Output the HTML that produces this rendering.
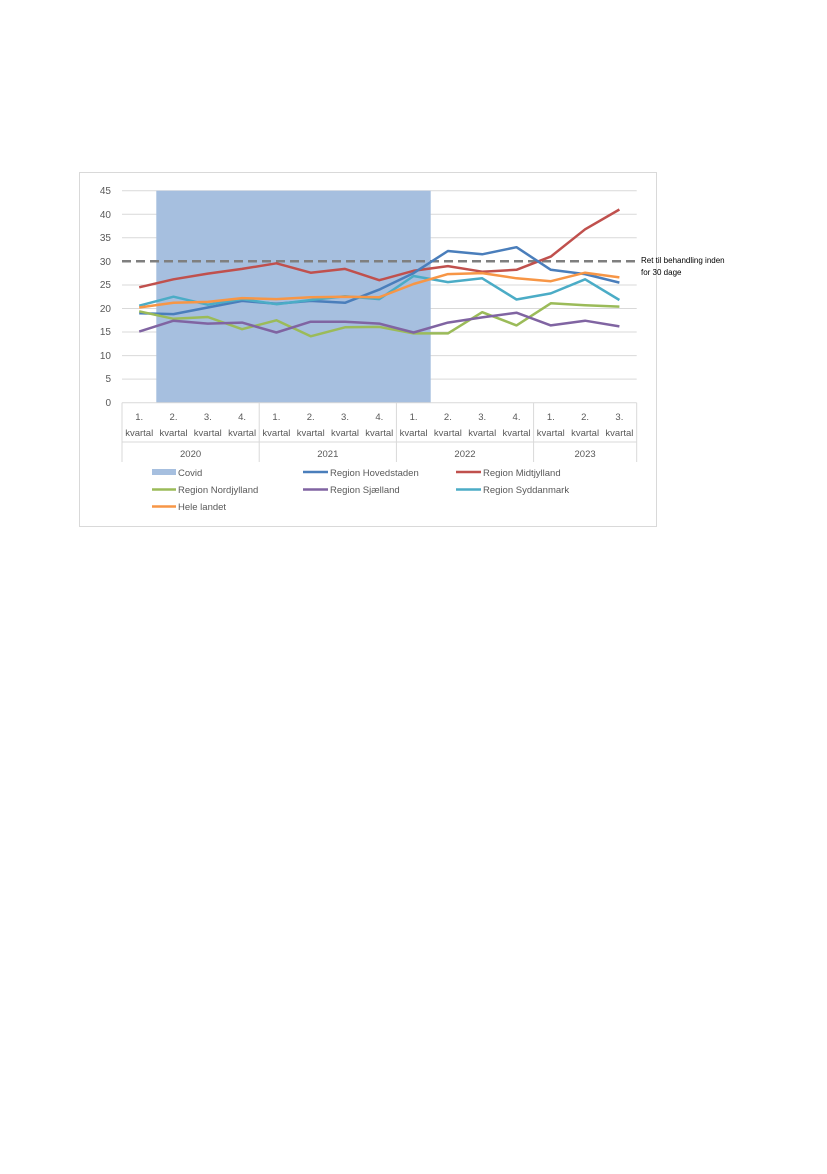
<!DOCTYPE html>
<html><head><meta charset="utf-8"><style>
body{margin:0;background:#fff;}
svg text{font-family:"Liberation Sans",sans-serif;}
</style></head><body>
<svg width="827" height="1169" xmlns="http://www.w3.org/2000/svg">
<rect x="79.5" y="172.5" width="577" height="354" fill="#fff" stroke="#d9d9d9"/>
<g id="grid" stroke="#d9d9d9" stroke-width="1">
</g>
<script>
</script>
<g fill="#595959" font-size="10" text-anchor="end">
<text x="111" y="194">45</text><text x="111" y="218">40</text><text x="111" y="241">35</text><text x="111" y="265">30</text><text x="111" y="288">25</text><text x="111" y="312">20</text><text x="111" y="335">15</text><text x="111" y="359">10</text><text x="111" y="382">5</text><text x="111" y="406">0</text>
</g>
<g stroke="#d9d9d9">
<line x1="122" y1="190.7" x2="636.7" y2="190.7"/><line x1="122" y1="214.3" x2="636.7" y2="214.3"/><line x1="122" y1="237.8" x2="636.7" y2="237.8"/><line x1="122" y1="285" x2="636.7" y2="285"/><line x1="122" y1="308.5" x2="636.7" y2="308.5"/><line x1="122" y1="332" x2="636.7" y2="332"/><line x1="122" y1="355.6" x2="636.7" y2="355.6"/><line x1="122" y1="379.1" x2="636.7" y2="379.1"/>
</g>
<rect x="156.3" y="190.7" width="274.4" height="212" fill="#a6bfdf"/>
<g stroke="#d9d9d9">
<line x1="122" y1="402.7" x2="636.7" y2="402.7"/>
<line x1="122" y1="402.7" x2="122" y2="462"/><line x1="259.2" y1="402.7" x2="259.2" y2="462"/><line x1="396.4" y1="402.7" x2="396.4" y2="462"/><line x1="533.6" y1="402.7" x2="533.6" y2="462"/><line x1="636.7" y1="402.7" x2="636.7" y2="462"/>
<line x1="122" y1="442" x2="636.7" y2="442"/>
</g>
<line x1="122" y1="261.3" x2="636.7" y2="261.3" stroke="#7f7f7f" stroke-width="2.5" stroke-dasharray="9,5"/>
<g fill="none" stroke-width="2.5" stroke-linejoin="round">
<polyline stroke="#c0504d" points="139.2,287.3 173.5,279.3 207.8,273.6 242.1,268.9 276.4,263.3 310.7,272.7 345,268.9 379.3,280.2 413.6,270.8 447.9,266.1 482.2,271.7 516.5,269.8 550.8,256.6 585.1,229.3 619.4,209.5"/>
<polyline stroke="#4a7ebb" points="139.2,313.2 173.5,314.1 207.8,307.5 242.1,300.9 276.4,303.8 310.7,300.9 345,302.8 379.3,289.6 413.6,273.1 447.9,251 482.2,254.3 516.5,247.2 550.8,269.8 585.1,274.1 619.4,282.6"/>
<polyline stroke="#4bacc6" points="139.2,305.7 173.5,296.7 207.8,304.7 242.1,299.1 276.4,304.2 310.7,300 345,296.2 379.3,299.1 413.6,276 447.9,282.1 482.2,278.3 516.5,299.5 550.8,293.4 585.1,279.3 619.4,300"/>
<polyline stroke="#f79646" points="139.2,307.5 173.5,302.8 207.8,301.9 242.1,298.1 276.4,299.1 310.7,297.2 345,296.7 379.3,297.2 413.6,284 447.9,274.1 482.2,273.1 516.5,278.3 550.8,281.2 585.1,272.7 619.4,277.4"/>
<polyline stroke="#9bbb59" points="139.2,311.3 173.5,318.8 207.8,317 242.1,329.2 276.4,320.3 310.7,336.3 345,327.3 379.3,326.9 413.6,333.4 447.9,333.4 482.2,312.2 516.5,325.4 550.8,303.3 585.1,305.2 619.4,306.6"/>
<polyline stroke="#8064a2" points="139.2,331.6 173.5,320.7 207.8,323.6 242.1,322.6 276.4,332.5 310.7,321.7 345,321.7 379.3,323.6 413.6,332.5 447.9,322.6 482.2,317.4 516.5,312.7 550.8,325.4 585.1,320.7 619.4,326.4"/>
</g>
<g fill="#000" font-size="8"><text x="641" y="263">Ret til behandling inden</text><text x="641" y="275">for 30 dage</text></g>
<g fill="#595959" font-size="9.5" text-anchor="middle" id="cats">
<text x="139.2" y="420">1.</text><text x="139.2" y="436">kvartal</text>
<text x="173.5" y="420">2.</text><text x="173.5" y="436">kvartal</text>
<text x="207.8" y="420">3.</text><text x="207.8" y="436">kvartal</text>
<text x="242.1" y="420">4.</text><text x="242.1" y="436">kvartal</text>
<text x="276.4" y="420">1.</text><text x="276.4" y="436">kvartal</text>
<text x="310.7" y="420">2.</text><text x="310.7" y="436">kvartal</text>
<text x="345" y="420">3.</text><text x="345" y="436">kvartal</text>
<text x="379.3" y="420">4.</text><text x="379.3" y="436">kvartal</text>
<text x="413.6" y="420">1.</text><text x="413.6" y="436">kvartal</text>
<text x="447.9" y="420">2.</text><text x="447.9" y="436">kvartal</text>
<text x="482.2" y="420">3.</text><text x="482.2" y="436">kvartal</text>
<text x="516.5" y="420">4.</text><text x="516.5" y="436">kvartal</text>
<text x="550.8" y="420">1.</text><text x="550.8" y="436">kvartal</text>
<text x="585.1" y="420">2.</text><text x="585.1" y="436">kvartal</text>
<text x="619.4" y="420">3.</text><text x="619.4" y="436">kvartal</text>
<text x="190.6" y="457">2020</text><text x="327.8" y="457">2021</text><text x="465" y="457">2022</text><text x="585.1" y="457">2023</text>
</g>
<g font-size="9.5" fill="#595959">
<rect x="152" y="469" width="24" height="6" fill="#a6bfdf"/><text x="178" y="476">Covid</text>
<line x1="303" y1="472" x2="328" y2="472" stroke="#4a7ebb" stroke-width="2.5"/><text x="330" y="476">Region Hovedstaden</text>
<line x1="456" y1="472" x2="481" y2="472" stroke="#c0504d" stroke-width="2.5"/><text x="483" y="476">Region Midtjylland</text>
<line x1="152" y1="489.5" x2="176" y2="489.5" stroke="#9bbb59" stroke-width="2.5"/><text x="178" y="493">Region Nordjylland</text>
<line x1="303" y1="489.5" x2="328" y2="489.5" stroke="#8064a2" stroke-width="2.5"/><text x="330" y="493">Region Sjælland</text>
<line x1="456" y1="489.5" x2="481" y2="489.5" stroke="#4bacc6" stroke-width="2.5"/><text x="483" y="493">Region Syddanmark</text>
<line x1="152" y1="506.5" x2="176" y2="506.5" stroke="#f79646" stroke-width="2.5"/><text x="178" y="510">Hele landet</text>
</g>
</svg>
</body></html>
